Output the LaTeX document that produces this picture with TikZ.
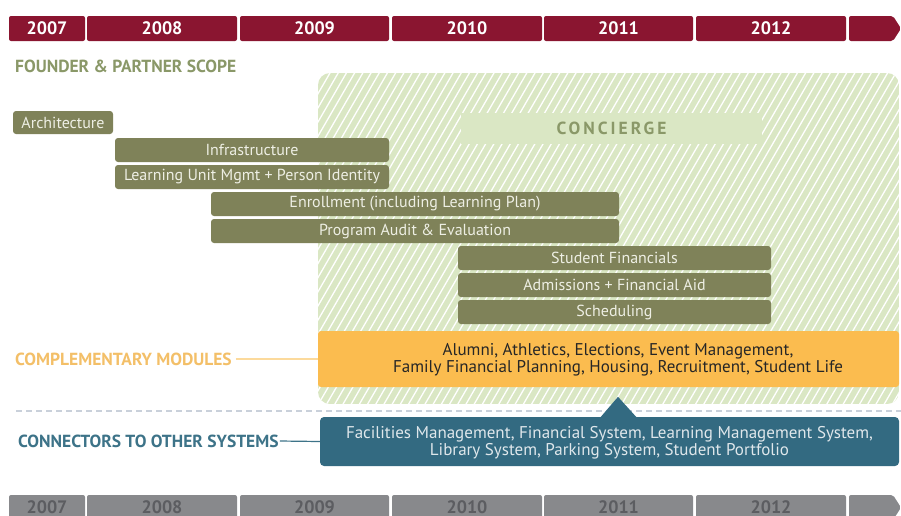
\documentclass[tikz,border=0pt]{standalone}
\usepackage{fontspec}
\setmainfont{PT Sans}
\usepackage{xcolor}
\usetikzlibrary{positioning,calc}

\definecolor{wine}{HTML}{8A1530}
\definecolor{slate}{HTML}{88898C}
\definecolor{slatetext}{HTML}{5C5D61}
\definecolor{olive}{HTML}{7F8259}
\definecolor{olivetext}{HTML}{8A9868}
\definecolor{bartext}{HTML}{EEEFE4}
\definecolor{leaf}{HTML}{DAE7C4}
\definecolor{amber}{HTML}{FBBC4F}
\definecolor{amberlabel}{HTML}{F3BF68}
\definecolor{amberline}{HTML}{FCDA9C}
\definecolor{petrol}{HTML}{336A81}
\definecolor{petroltext}{HTML}{3D7388}
\definecolor{petrolfont}{HTML}{DFE7EB}
\definecolor{dashgray}{HTML}{C9D0DA}

\begin{document}
\begin{tikzpicture}[x=1pt, y=-1pt,
    yearcell/.style={rectangle, rounded corners=2pt, inner sep=0pt,
      minimum height=25pt, font=\fontsize{18}{18}\selectfont\bfseries},
    phase/.style={rectangle, rounded corners=3pt, fill=olive, text=bartext,
      inner sep=0pt, minimum height=24pt, font=\fontsize{16}{16}\selectfont},
    scopelabel/.style={anchor=west, inner sep=1pt,
      font=\fontsize{17.5}{17.5}\selectfont\bfseries}]
  \clip (0,0) rectangle (901,515);

  % timeline bars, top and bottom
  \foreach \yc/\bg/\fg/\tag in {28.5/wine/white/top, 507.5/slate/slatetext/bot}{
    \foreach \l/\r/\yr in {9/85/2007, 87/237/2008, 240/389/2009,
                           392/542/2010, 544/693/2011, 696/846/2012}{
      \pgfmathsetmacro\w{\r-\l}
      \node[yearcell, fill=\bg, text=\fg, minimum width=\w pt]
        (\tag\yr) at ({(\l+\r)/2},\yc) {\yr};
    }
    \fill[\bg, rounded corners=2pt] (849,\yc-12.5) -- (893,\yc-12.5)
      -- (901,\yc) -- (893,\yc+12.5) -- (849,\yc+12.5) -- cycle;
  }

  % hatched concierge area
  \begin{scope}
    \clip[rounded corners=12pt] (318,73) rectangle (899,404);
    \fill[leaf] (318,73) rectangle (899,404);
    \foreach \i in {0,...,98}
      \draw[white, line width=1.3pt] ({110+\i*8.2},410) -- ++(200,-345);
  \end{scope}
  \node[rectangle, fill=leaf, minimum width=301pt, minimum height=31pt,
    inner sep=0pt, text=olivetext,
    font=\fontsize{17.5}{17.5}\selectfont\bfseries\addfontfeature{LetterSpace=17}]
    (concierge) at (611.5,128.5) {CONCIERGE};

  \node[scopelabel, text=olivetext] (founder) at (14,66) {FOUNDER \& PARTNER SCOPE};

  % founder and partner phases
  \node[phase, minimum width=100pt, minimum height=23pt] (arch) at (63,122.5) {Architecture};
  \node[phase, minimum width=274pt] (infra) at (252,150) {Infrastructure};
  \node[phase, minimum width=274pt] (unit) at (252,177) {Learning Unit Mgmt + Person Identity};
  \node[phase, minimum width=408pt] (enrol) at (415,204) {Enrollment (including Learning Plan)};
  \node[phase, minimum width=408pt] (audit) at (415,231) {Program Audit \& Evaluation};
  \node[phase, minimum width=313pt] (finance) at (614.5,258) {Student Financials};
  \node[phase, minimum width=313pt] (admit) at (614.5,285) {Admissions + Financial Aid};
  \node[phase, minimum width=313pt] (sched) at (614.5,312) {Scheduling};

  % complementary modules
  \node[rectangle, rounded corners=3pt, fill=amber, minimum width=581pt,
    minimum height=56pt, inner sep=0pt] (modbox) at (608.5,359) {};
  \node[align=center, text=black!85, font=\fontsize{17}{17}\selectfont]
    (modtext) at (618,360)
    {Alumni, Athletics, Elections, Event Management,\\
     Family Financial Planning, Housing, Recruitment, Student Life};
  \node[scopelabel, text=amberlabel] (modlabel) at (14,359) {COMPLEMENTARY MODULES};
  \draw[amberline, line width=1.5pt] ([xshift=3pt]modlabel.east) -- (modbox.west);

  \draw[dashgray, line width=2pt, dash pattern=on 6pt off 4pt] (16,411) -- (901,411);

  % connectors to other systems
  \node[rectangle, rounded corners=4pt, fill=petrol, minimum width=579pt,
    minimum height=49pt, inner sep=0pt] (connbox) at (609.5,441.5) {};
  \fill[petrol] ([xshift=-9.5pt,yshift=-1pt]connbox.north)
    -- ([xshift=8.5pt,yshift=20pt]connbox.north)
    -- ([xshift=27.5pt,yshift=-1pt]connbox.north) -- cycle;
  \node[align=center, text=petrolfont, font=\fontsize{17}{17}\selectfont]
    (conntext) at (609.5,443)
    {Facilities Management, Financial System, Learning Management System,\\
     Library System, Parking System, Student Portfolio};
  \node[scopelabel, text=petroltext] (connlabel) at (17,441) {CONNECTORS TO OTHER SYSTEMS};
  \draw[petroltext, line width=1.2pt] (connlabel.east) -- (connbox.west);
\end{tikzpicture}
\end{document}
